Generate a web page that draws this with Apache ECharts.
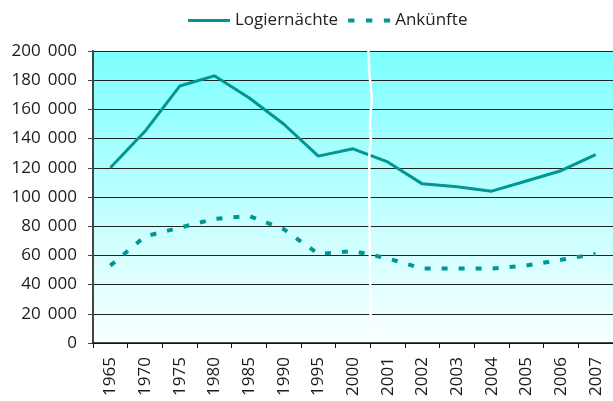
<!DOCTYPE html>
<html>
<head>
<meta charset="utf-8">
<script src="https://cdn.jsdelivr.net/npm/echarts@6/dist/echarts.min.js"></script>
<style>html,body{margin:0;padding:0;background:#fff;}#c{width:613px;height:401px;}</style>
</head>
<body>
<div id="c"></div>
<script>
var categories = ['1965','1970','1975','1980','1985','1990','1995','2000','2001','2002','2003','2004','2005','2006','2007'];
var logiernaechte = [120000,145000,176000,183000,168000,150000,128000,133000,124000,109000,107000,104000,111000,118000,129000];
var ankuenfte = [53000,73000,79000,85000,87000,78000,61000,63000,58000,51000,51000,51000,53000,57000,61000];
var seriesNames = ['Logiernächte','Ankünfte'];
var yTicks = {min:0, max:200000, interval:20000};

var FONT = 'Open Sans';
var TEAL = '#009694';
var chart = echarts.init(document.getElementById('c'), null, {renderer:'canvas'});
function fmt(v){ return String(v).replace(/\B(?=(\d{3})+(?!\d))/g, ' \u2009'); }
chart.setOption({
  animation:false,
  textStyle:{fontFamily:FONT},
  legend:{
    top:7, left:183, itemWidth:42, itemHeight:14, itemGap:10,
    textStyle:{fontFamily:FONT, fontSize:17, color:'#222'},
    data:[
      {name:seriesNames[0], icon:'path://M0,0H42V3H0Z', itemStyle:{color:TEAL}},
      {name:seriesNames[1], icon:'path://M0,0H6V4H0Z M17,0H23V4H17Z M34,0H40V4H34Z', itemStyle:{color:TEAL}}
    ]
  },
  grid:{left:93, top:51, width:521, bottom:58, show:true, borderWidth:0,
    backgroundColor:{type:'linear', x:0, y:0, x2:0, y2:1, colorStops:[{offset:0,color:'#7cffff'},{offset:1,color:'#fbffff'}]}},
  xAxis:{
    type:'category', data:categories, boundaryGap:true,
    axisLine:{lineStyle:{color:'#111', width:1.5}},
    axisTick:{show:true, length:5, inside:false, lineStyle:{color:'#111'}},
    axisLabel:{rotate:90, margin:14, fontFamily:FONT, fontSize:17, color:'#1a1a1a'}
  },
  yAxis:{
    type:'value', min:yTicks.min, max:yTicks.max, interval:yTicks.interval,
    axisLine:{show:true, lineStyle:{color:'#444', width:2}},
    axisTick:{show:true, length:5, lineStyle:{color:'#444'}},
    axisLabel:{margin:16, fontFamily:FONT, fontSize:17, color:'#1a1a1a', formatter:fmt},
    splitLine:{show:true, lineStyle:{color:'#222', width:1}}
  },
  series:[
    {name:seriesNames[0], type:'line', data:logiernaechte, symbol:'none', lineStyle:{color:TEAL, width:3}, itemStyle:{color:TEAL}},
    {name:seriesNames[1], type:'line', data:ankuenfte, symbol:'none', lineStyle:{color:TEAL, width:4, type:[6,11]}, itemStyle:{color:TEAL}}
  ]
});
// axis break marker between 2000 and 2001
var pA = chart.convertToPixel({xAxisIndex:0, yAxisIndex:0}, ['2000', 200000]);
var pB = chart.convertToPixel({xAxisIndex:0, yAxisIndex:0}, ['2001', 12000]);
var bx = (pA[0] + pB[0]) / 2;
var y0 = pA[1], y1 = pB[1], h = y1 - y0;
var wig = [[0,-2],[0.08,-1],[0.17,1.5],[0.26,-0.5],[0.33,0.5],[0.38,-1],[0.55,-1],[0.75,-0.5],[1,0.5]];
chart.setOption({graphic:[{type:'polyline', z:100, shape:{points:wig.map(function(w){return [bx + w[1], y0 + w[0]*h];})}, style:{stroke:'#fff', lineWidth:2.5, fill:null}}]});
</script>
</body>
</html>
